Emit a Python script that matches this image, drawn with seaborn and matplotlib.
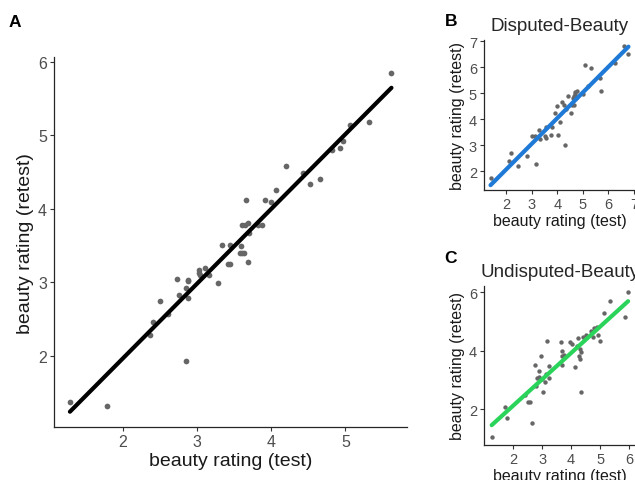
import matplotlib
matplotlib.use('Agg')
from matplotlib import pyplot as plt
import pandas as pd
import seaborn as sns

# panel A: all faces
a_test = [1.285, 1.78, 2.855, 2.364, 2.41, 2.61, 2.50, 2.73, 2.75, 2.855, 2.877, 2.88,
          2.877, 3.03, 3.03, 3.04, 3.11, 3.16, 3.28, 3.33, 3.44, 3.41, 3.44, 3.59,
          3.60, 3.58, 3.63, 3.69, 3.66, 3.60, 3.64, 3.69, 3.70, 3.82, 3.875, 3.91,
          3.99, 4.07, 4.20, 4.43, 4.52, 4.66, 4.825, 4.93, 4.96, 5.06, 5.32, 5.62]
a_retest = [1.374, 1.32, 1.93, 2.285, 2.46, 2.565, 2.747, 3.05, 2.83, 2.92, 3.01, 3.03,
            2.79, 3.17, 3.12, 3.10, 3.19, 3.10, 2.99, 3.50, 3.51, 3.25, 3.245, 3.49,
            3.40, 3.40, 3.40, 3.27, 4.115, 3.78, 3.78, 3.80, 3.675, 3.78, 3.78, 4.115,
            4.09, 4.26, 4.58, 4.48, 4.34, 4.41, 4.80, 4.83, 4.92, 5.14, 5.18, 5.85]

# panel B: disputed beauty
b_test = [1.40, 2.13, 2.21, 2.49, 2.805, 3.17, 3.01, 3.13, 3.29, 3.32, 3.53, 3.55,
          3.58, 3.78, 3.77, 3.90, 3.99, 4.03, 4.10, 4.17, 4.26, 4.31, 4.42, 4.53,
          4.56, 4.65, 4.66, 4.69, 4.78, 4.75, 4.71, 4.60, 5.10, 5.32, 5.22, 5.675,
          5.69, 6.27, 6.62, 6.78, 4.99, 4.36]
b_retest = [1.73, 2.41, 2.705, 2.19, 2.60, 2.28, 3.35, 3.35, 3.59, 3.24, 3.35, 3.27,
            3.69, 3.71, 3.41, 4.23, 4.49, 3.41, 3.91, 4.68, 4.53, 3.00, 4.885, 4.23,
            4.53, 4.55, 4.91, 5.06, 5.10, 4.81, 4.97, 4.81, 6.09, 5.96, 5.27, 5.58,
            5.09, 6.18, 6.81, 6.50, 4.97, 4.40]

# panel C: undisputed beauty
c_test = [1.25, 1.72, 1.77, 2.39, 2.49, 2.58, 2.65, 2.75, 2.81, 2.79, 2.87, 2.94,
          2.99, 3.02, 3.08, 3.14, 3.16, 3.23, 3.24, 2.90, 3.65, 3.68, 3.69, 3.67,
          3.74, 3.97, 4.04, 4.14, 4.23, 4.28, 4.30, 4.32, 4.34, 4.34, 4.40, 4.52,
          4.76, 4.79, 4.92, 5.00, 5.14, 5.33, 5.85, 5.97, 4.20, 4.68, 4.90]
c_retest = [1.03, 2.08, 1.68, 2.48, 2.23, 2.23, 1.54, 3.51, 3.05, 2.80, 3.31, 3.81,
            3.03, 2.59, 2.94, 3.20, 4.33, 3.49, 3.05, 3.10, 4.29, 4.00, 3.81, 3.51,
            3.87, 4.29, 4.22, 3.43, 4.42, 3.83, 3.71, 4.06, 3.94, 2.59, 4.48, 4.54,
            4.46, 4.77, 4.55, 4.35, 5.28, 5.70, 5.15, 6.00, 4.17, 4.69, 4.83]

df_a = pd.DataFrame({'test': a_test, 'retest': a_retest})
df_b = pd.DataFrame({'test': b_test, 'retest': b_retest})
df_c = pd.DataFrame({'test': c_test, 'retest': c_retest})

sns.set_style('ticks')
plt.rcParams['font.family'] = ['Liberation Sans', 'DejaVu Sans']
plt.rcParams['axes.linewidth'] = 0.9
plt.rcParams['xtick.color'] = '#333333'
plt.rcParams['ytick.color'] = '#333333'
plt.rcParams['xtick.labelcolor'] = '#4D4D4D'
plt.rcParams['ytick.labelcolor'] = '#4D4D4D'
plt.rcParams['axes.labelcolor'] = '#1A1A1A'

fig = plt.figure(figsize=(6.35, 4.81), dpi=100)
ax_a = fig.add_axes([0.085, 0.110, 0.556, 0.769])
ax_b = fig.add_axes([0.762, 0.6035, 0.239, 0.312])
ax_c = fig.add_axes([0.762, 0.0734, 0.239, 0.3306])

pt = '#666666'

sns.regplot(x='test', y='retest', data=df_a, ax=ax_a, ci=None,
            scatter_kws={'color': pt, 's': 17, 'alpha': 1, 'linewidths': 0},
            line_kws={'color': 'black', 'lw': 3})
sns.regplot(x='test', y='retest', data=df_b, ax=ax_b, ci=None,
            scatter_kws={'color': pt, 's': 10, 'alpha': 1, 'linewidths': 0},
            line_kws={'color': '#1E7AD6', 'lw': 3})
sns.regplot(x='test', y='retest', data=df_c, ax=ax_c, ci=None,
            scatter_kws={'color': pt, 's': 10, 'alpha': 1, 'linewidths': 0},
            line_kws={'color': '#2AD45A', 'lw': 3})

ax_a.set_xlim(1.07, 5.83)
ax_a.set_ylim(1.03, 6.06)
ax_a.set_xticks([2, 3, 4, 5])
ax_a.set_yticks([2, 3, 4, 5, 6])

ax_b.set_xlim(1.14, 7.06)
ax_b.set_ylim(1.29, 7.06)
ax_b.set_xticks([2, 3, 4, 5, 6, 7])
ax_b.set_yticks([2, 3, 4, 5, 6, 7])

ax_c.set_xlim(0.98, 6.23)
ax_c.set_ylim(0.78, 6.23)
ax_c.set_xticks([2, 3, 4, 5, 6])
ax_c.set_yticks([2, 4, 6])

for ax, fs, ts in [(ax_a, 14, 11.5), (ax_b, 11.5, 10.5), (ax_c, 11.5, 10.5)]:
    sns.despine(ax=ax)
    ax.set_xlabel('beauty rating (test)', fontsize=fs, labelpad=2)
    ax.set_ylabel('beauty rating (retest)', fontsize=fs, labelpad=3)
    ax.tick_params(length=3, width=0.8, labelsize=ts, pad=2)

ax_b.set_title('Disputed-Beauty', fontsize=13.5, pad=7)
ax_c.set_title('Undisputed-Beauty', fontsize=13.5, pad=7)

# panel letters
for x, y, s in [(0.013, 0.943, 'A'), (0.700, 0.945, 'B'), (0.700, 0.453, 'C')]:
    fig.text(x, y, s, fontsize=12.5, fontweight='bold', color='black',
             family=['Liberation Sans', 'DejaVu Sans'])

fig.savefig('out.png', dpi=100)
